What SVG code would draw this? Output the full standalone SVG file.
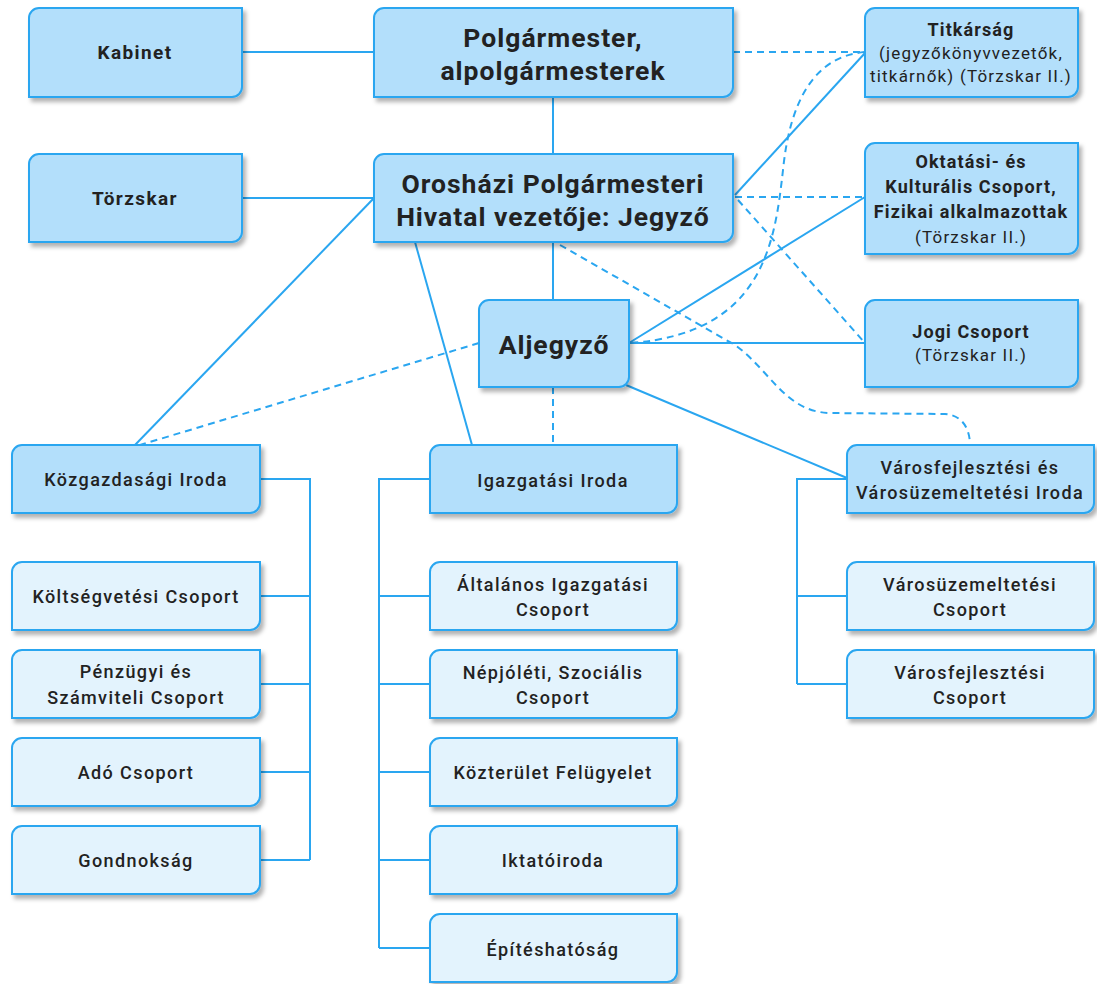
<svg xmlns="http://www.w3.org/2000/svg" width="1097" height="984" viewBox="0 0 1097 984">
<defs>
<filter id="sh" x="-10%" y="-10%" width="130%" height="140%">
<feDropShadow dx="3" dy="4" stdDeviation="2" flood-color="#000" flood-opacity="0.3"/>
</filter>
<style>
.m{fill:#b3dffb;stroke:#2aa6f0;stroke-width:2;filter:url(#sh)}
.s{fill:#e3f3fd;stroke:#2aa6f0;stroke-width:2;filter:url(#sh)}
.c{fill:none;stroke:#2aa6f0;stroke-width:2}
.d{fill:none;stroke:#2aa6f0;stroke-width:2;stroke-dasharray:7,5}
text{font-family:Roboto,"Liberation Sans",sans-serif;fill:#222;text-anchor:middle}
.big{font-size:26.5px;font-weight:700;letter-spacing:1px}
.t{font-size:19px;font-weight:700;letter-spacing:1.4px}
.b{font-size:18px;font-weight:700;letter-spacing:1.1px}
.n{font-size:17px;font-weight:400;letter-spacing:1.2px}
.o{font-size:18px;font-weight:500;letter-spacing:1.4px}
</style>
</defs>
<rect width="1097" height="984" fill="#fff"/>
<g id="connectors">
<path class="c" d="M242,52 H374"/>
<path class="c" d="M242,198 H374"/>
<path class="c" d="M553,97 V154"/>
<path class="c" d="M553,242 V300"/>
<path class="d" d="M733,52 H865"/>
<path class="c" d="M735,195 L865,53"/>
<path class="d" d="M735,197 H865"/>
<path class="d" d="M738,200 L865,343"/>
<path class="c" d="M629,343 L865,197"/>
<path class="d" d="M631,343 C765,333 775,240 783,170 C790,100 815,56 865,52"/>
<path class="c" d="M629,343 H865"/>
<path class="d" d="M560,245 L735,345 C770,370 785,412 830,413 L945,414 C963,415 970,430 970,445"/>
<path class="d" d="M553,387 V445"/>
<path class="c" d="M415,242 L472,445"/>
<path class="c" d="M374,198 L135,445"/>
<path class="d" d="M479,343 L140,445"/>
<path class="c" d="M626,385 L847,478"/>
<path class="c" d="M260,479 H310 V860 M260,596 H310 M260,684 H310 M260,772 H310 M260,860 H310"/>
<path class="c" d="M430,479 H379 V948 M379,596 H430 M379,684 H430 M379,772 H430 M379,860 H430 M379,948 H430"/>
<path class="c" d="M847,479 H797 V684 M797,596 H847 M797,684 H847"/>
</g>
<g id="kabinet"><path class="m" d="M39,8 H242 V87 A10,10 0 0 1 232,97 H29 V18 A10,10 0 0 1 39,8 Z"/><text class="t" x="135" y="59">Kabinet</text></g>
<g id="polgarmester"><path class="m" d="M384,8 H733 V87 A10,10 0 0 1 723,97 H374 V18 A10,10 0 0 1 384,8 Z"/><text class="big" x="553" y="47">Polgármester,</text><text class="big" x="553" y="80">alpolgármesterek</text></g>
<g id="titkarsag"><path class="m" d="M875,8 H1078 V87 A10,10 0 0 1 1068,97 H865 V18 A10,10 0 0 1 875,8 Z"/><text class="b" x="971" y="36">Titkárság</text><text class="n" x="971" y="59">(jegyzőkönyvvezetők,</text><text class="n" x="971" y="82">titkárnők) (Törzskar II.)</text></g>
<g id="torzskar"><path class="m" d="M39,154 H242 V232 A10,10 0 0 1 232,242 H29 V164 A10,10 0 0 1 39,154 Z"/><text class="t" x="135" y="205">Törzskar</text></g>
<g id="jegyzo"><path class="m" d="M384,154 H733 V232 A10,10 0 0 1 723,242 H374 V164 A10,10 0 0 1 384,154 Z"/><text class="big" x="553" y="193">Orosházi Polgármesteri</text><text class="big" x="553" y="226">Hivatal vezetője: Jegyző</text></g>
<g id="oktatasi"><path class="m" d="M875,143 H1078 V244 A10,10 0 0 1 1068,254 H865 V153 A10,10 0 0 1 875,143 Z"/><text class="b" x="971" y="168">Oktatási- és</text><text class="b" x="971" y="193">Kulturális Csoport,</text><text class="b" x="971" y="218">Fizikai alkalmazottak</text><text class="n" x="971" y="243">(Törzskar II.)</text></g>
<g id="aljegyzo"><path class="m" d="M489,300 H629 V377 A10,10 0 0 1 619,387 H479 V310 A10,10 0 0 1 489,300 Z"/><text class="big" x="554" y="354">Aljegyző</text></g>
<g id="jogi"><path class="m" d="M875,300 H1078 V377 A10,10 0 0 1 1068,387 H865 V310 A10,10 0 0 1 875,300 Z"/><text class="b" x="971" y="338">Jogi Csoport</text><text class="n" x="971" y="361">(Törzskar II.)</text></g>
<g id="kozgazdasagi"><path class="m" d="M22,445 H260 V503 A10,10 0 0 1 250,513 H12 V455 A10,10 0 0 1 22,445 Z"/><text class="o" x="136" y="486">Közgazdasági Iroda</text></g>
<g id="igazgatasi"><path class="m" d="M440,445 H677 V503 A10,10 0 0 1 667,513 H430 V455 A10,10 0 0 1 440,445 Z"/><text class="o" x="553" y="487">Igazgatási Iroda</text></g>
<g id="varos-iroda"><path class="m" d="M857,445 H1094 V503 A10,10 0 0 1 1084,513 H847 V455 A10,10 0 0 1 857,445 Z"/><text class="o" x="970" y="474">Városfejlesztési és</text><text class="o" x="970" y="499">Városüzemeltetési Iroda</text></g>
<g id="koltsegvetesi"><path class="s" d="M22,562 H260 V620 A10,10 0 0 1 250,630 H12 V572 A10,10 0 0 1 22,562 Z"/><text class="o" x="136" y="603">Költségvetési Csoport</text></g>
<g id="penzugyi"><path class="s" d="M22,650 H260 V708 A10,10 0 0 1 250,718 H12 V660 A10,10 0 0 1 22,650 Z"/><text class="o" x="136" y="678">Pénzügyi és</text><text class="o" x="136" y="704">Számviteli Csoport</text></g>
<g id="ado"><path class="s" d="M22,738 H260 V796 A10,10 0 0 1 250,806 H12 V748 A10,10 0 0 1 22,738 Z"/><text class="o" x="136" y="779">Adó Csoport</text></g>
<g id="gondnoksag"><path class="s" d="M22,826 H260 V884 A10,10 0 0 1 250,894 H12 V836 A10,10 0 0 1 22,826 Z"/><text class="o" x="136" y="867">Gondnokság</text></g>
<g id="altalanos"><path class="s" d="M440,562 H677 V620 A10,10 0 0 1 667,630 H430 V572 A10,10 0 0 1 440,562 Z"/><text class="o" x="553" y="591">Általános Igazgatási</text><text class="o" x="553" y="616">Csoport</text></g>
<g id="nepjoleti"><path class="s" d="M440,650 H677 V708 A10,10 0 0 1 667,718 H430 V660 A10,10 0 0 1 440,650 Z"/><text class="o" x="553" y="679">Népjóléti, Szociális</text><text class="o" x="553" y="704">Csoport</text></g>
<g id="kozterulet"><path class="s" d="M440,738 H677 V796 A10,10 0 0 1 667,806 H430 V748 A10,10 0 0 1 440,738 Z"/><text class="o" x="553" y="779">Közterület Felügyelet</text></g>
<g id="iktatoiroda"><path class="s" d="M440,826 H677 V884 A10,10 0 0 1 667,894 H430 V836 A10,10 0 0 1 440,826 Z"/><text class="o" x="553" y="867">Iktatóiroda</text></g>
<g id="epiteshatosag"><path class="s" d="M440,914 H677 V972 A10,10 0 0 1 667,982 H430 V924 A10,10 0 0 1 440,914 Z"/><text class="o" x="553" y="956">Építéshatóság</text></g>
<g id="varosuzemeltetesi"><path class="s" d="M857,562 H1094 V620 A10,10 0 0 1 1084,630 H847 V572 A10,10 0 0 1 857,562 Z"/><text class="o" x="970" y="591">Városüzemeltetési</text><text class="o" x="970" y="616">Csoport</text></g>
<g id="varosfejlesztesi"><path class="s" d="M857,650 H1094 V708 A10,10 0 0 1 1084,718 H847 V660 A10,10 0 0 1 857,650 Z"/><text class="o" x="970" y="679">Városfejlesztési</text><text class="o" x="970" y="704">Csoport</text></g>
</svg>
